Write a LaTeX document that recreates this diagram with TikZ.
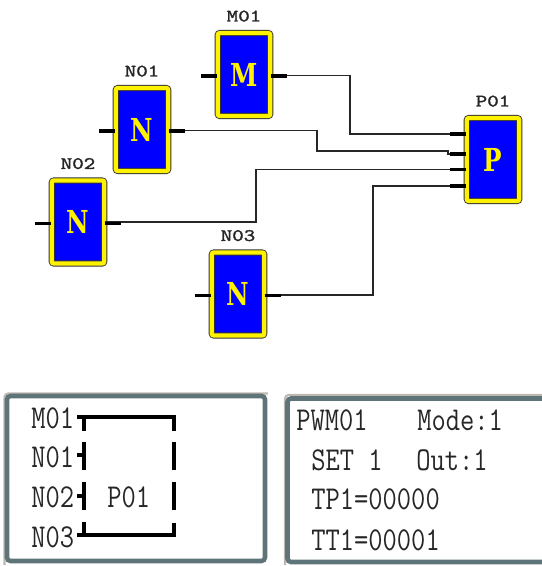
\documentclass[tikz,border=0pt]{standalone}
\usepackage{xcolor}
\usepackage{fontspec}
\usepackage{tikz}
\usetikzlibrary{positioning,calc}
\newfontfamily\blockfont[FakeStretch=0.78]{DejaVu Serif}
\newfontfamily\lcdfont[FakeStretch=0.83]{Latin Modern Mono}
\newfontfamily\tagfont[FakeStretch=1.25,FakeBold=1.6]{Latin Modern Mono}
\definecolor{lcdedge}{HTML}{5F7478}
\definecolor{lcdtop}{HTML}{BDB8B2}

\begin{document}
\begin{tikzpicture}[x=0.02cm, y=-0.02cm,
    block/.style={draw=black!80, double=yellow, double distance=2.5pt, line width=0.5pt,
      fill=blue, rounded corners=1.2pt, minimum width=1.05cm, minimum height=1.66cm, inner sep=0pt,
      text=yellow, font=\blockfont\bfseries\fontsize{18}{18}\selectfont},
    tag/.style={font=\tagfont\fontsize{10}{10}\selectfont, text=black!85, inner sep=1pt},
    stub/.style={line width=2pt, black},
    wire/.style={line width=1pt, black!85},
    lcdglow/.style={draw=lcdtop, line width=1.2pt, rounded corners=2pt},
    lcdframe/.style={draw=lcdedge, line width=2.6pt, rounded corners=2pt},
    lcdtext/.style={font=\lcdfont\fontsize{19}{19}\selectfont, anchor=base west, inner sep=0pt, text=black!85},
    mapline/.style={line width=1.8pt, black}]
  \useasboundingbox (0,0) rectangle (542,566);

  % function blocks
  \node[block] (M01) at (244,74.5) {M};
  \node[block] (N01) at (142,129.5) {N};
  \node[block] (N02) at (78,222) {N};
  \node[block] (N03) at (238,294) {N};
  \node[block] (P01) at (493,159.5) {P};
  \node[tag, above=5pt of M01] (tagM) {M01};
  \node[tag, above=5pt of N01] (tagA) {N01};
  \node[tag, above=5pt of N02] (tagB) {N02};
  \node[tag, above=5pt of N03] (tagC) {N03};
  \node[tag, above=5pt of P01] (tagP) {P01};

  % pins on P01
  \coordinate (pin1) at (P01.west |- 0,134);
  \coordinate (pin2) at (P01.west |- 0,154);
  \coordinate (pin3) at (P01.west |- 0,169.5);
  \coordinate (pin4) at (P01.west |- 0,186);

  % wires
  \draw[wire] ([yshift=-0.5pt]M01.east) -| (350,134) -- (pin1);
  \draw[wire] ([yshift=-0.5pt]N01.east) -| (317,151) -- (448,151) -- (448,154) -- (pin2);
  \draw[wire] ([yshift=-0.5pt]N03.east) -| (373,186) -- (pin4);
  \draw[wire] (N02.east) -| (256,169.5) -- (pin3);

  % input and output stubs
  \foreach \blk in {M01,N01,N02,N03}
    \draw[stub] ([yshift=-0.9pt]\blk.west) -- ++(-16,0);
  \foreach \blk in {M01,N01,N02,N03}
    \draw[stub] ([yshift=-0.9pt]\blk.east) -- ++(16,0);
  \foreach \pin in {pin1,pin2,pin3,pin4}
    \draw[stub] (\pin) -- ++(-16,0);

  % left panel
  \draw[lcdglow] (4.5,565) -- (4.5,393.5) -- (268,393.5);
  \draw[lcdframe] (7,396) rectangle (265,561);
  \node[lcdtext] (mapM) at (31,428) {M01};
  \node[lcdtext] (mapA) at (31,467) {N01};
  \node[lcdtext] (mapB) at (31,507) {N02};
  \node[lcdtext] (mapC) at (31,547) {N03};
  \node[lcdtext] (mapP) at (107,507) {P01};
  \draw[mapline] (77,417) -- (174,417) -- (174,431);
  \draw[mapline] (84,417) -- (84,431);
  \draw[mapline] (84,442) -- (84,470);
  \draw[mapline] (77,455) -- (84,455);
  \draw[mapline] (84,482) -- (84,510);
  \draw[mapline] (77,496) -- (84,496);
  \draw[mapline] (84,522) -- (84,535);
  \draw[mapline] (77,535) -- (174,535) -- (174,523);
  \draw[mapline] (174,442) -- (174,470);
  \draw[mapline] (174,482) -- (174,510);

  % right panel
  \draw[lcdglow] (285,565) -- (285,395) -- (542,395);
  \draw[lcdframe] (542,398.5) -- (287.5,398.5) -- (287.5,562) -- (542,562);
  \node[lcdtext] (lineA) at (296,430) {PWM01};
  \node[lcdtext] (lineB) at (417,430) {Mode:1};
  \node[lcdtext] (lineC) at (311,470) {SET 1};
  \node[lcdtext] (lineD) at (416,470) {Out:1};
  \node[lcdtext] (lineE) at (311,509) {TP1=00000};
  \node[lcdtext] (lineF) at (311,550) {TT1=00001};
\end{tikzpicture}
\end{document}
